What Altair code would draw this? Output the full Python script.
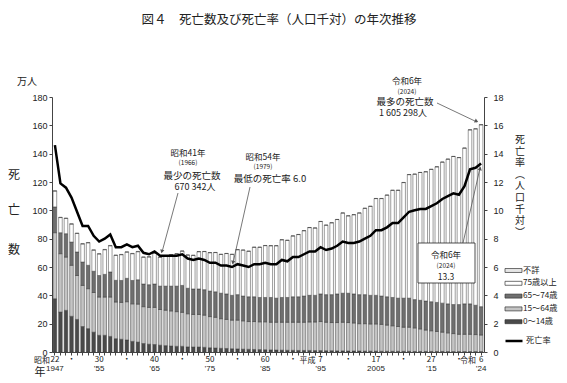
import altair as alt
import pandas as pd

FONT = "Noto Sans CJK JP"
NUMFONT = "Liberation Sans"

years = list(range(1947, 2025))

age_0_14 = [37.6, 28.2, 29.4, 25.2, 23.0, 18.0, 16.5, 14.0, 11.8, 11.8,
            11.0, 9.4, 9.0, 8.5, 7.5, 7.0, 6.0, 5.5, 5.3, 4.8,
            4.5, 4.2, 4.0, 4.0, 3.6, 3.5, 3.5, 3.3, 3.0, 2.8,
            2.6, 2.5, 2.3, 2.2, 2.0, 1.9, 1.8, 1.7, 1.6, 1.5,
            1.4, 1.3, 1.2, 1.2, 1.1, 1.1, 1.1, 1.0, 1.0, 0.9,
            0.9, 0.8, 0.8, 0.7, 0.7, 0.7, 0.6, 0.6, 0.6, 0.5,
            0.5, 0.5, 0.5, 0.5, 0.5, 0.4, 0.4, 0.4, 0.4, 0.4,
            0.4, 0.3, 0.3, 0.3, 0.3, 0.3, 0.3, 0.3]

age_15_64 = [46.6, 41.2, 37.6, 36.0, 31.0, 29.0, 28.2, 28.0, 27.0, 27.0,
             27.8, 25.9, 26.0, 27.0, 26.5, 26.8, 26.0, 26.0, 26.2, 25.2,
             25.0, 24.8, 24.5, 24.0, 23.4, 23.0, 23.0, 22.7, 22.0, 21.7,
             20.9, 20.5, 20.2, 20.3, 20.0, 19.6, 19.7, 19.6, 19.7, 19.5,
             19.6, 19.7, 19.8, 19.8, 19.9, 19.9, 20.1, 20.2, 20.5, 20.1,
             19.9, 20.0, 20.2, 20.1, 19.8, 19.3, 19.4, 19.2, 19.2, 19.0,
             18.5, 18.0, 17.5, 17.0, 17.0, 16.6, 15.9, 15.1, 14.6, 14.1,
             13.6, 13.2, 12.7, 12.2, 12.2, 12.2, 12.0, 11.7]

age_65_74 = [18.2, 14.8, 16.5, 16.4, 16.6, 16.5, 16.5, 15.0, 15.2, 16.0,
             17.7, 15.3, 15.5, 16.5, 16.5, 17.2, 16.0, 16.0, 16.5, 16.5,
             17.0, 17.5, 18.0, 19.0, 18.0, 18.0, 18.0, 18.0, 18.0, 18.0,
             18.0, 18.0, 17.5, 18.0, 17.5, 17.5, 17.5, 17.2, 17.2, 17.5,
             17.0, 17.5, 17.5, 18.0, 18.0, 18.5, 18.8, 18.8, 19.5, 19.5,
             19.7, 20.2, 20.5, 20.7, 20.5, 20.5, 20.5, 20.2, 20.2, 20.0,
             20.0, 20.0, 20.0, 20.5, 20.5, 20.0, 20.2, 20.5, 20.5, 20.5,
             20.5, 20.5, 20.5, 21.0, 21.5, 21.5, 20.7, 20.0]

age_75_plus = [11.2, 10.7, 10.8, 12.7, 13.1, 12.8, 15.9, 14.9, 15.2, 17.4,
               18.5, 17.6, 18.2, 18.5, 18.9, 19.8, 18.9, 19.6, 21.8, 20.4,
               20.9, 22.1, 22.8, 24.2, 23.4, 23.7, 26.3, 26.9, 27.1, 27.7,
               27.4, 28.5, 28.9, 31.7, 32.4, 32.1, 34.9, 35.4, 36.6, 36.5,
               37.0, 40.7, 40.3, 42.9, 43.9, 46.1, 47.8, 47.5, 51.1, 49.0,
               50.7, 52.5, 56.6, 54.6, 55.9, 57.6, 60.9, 62.8, 68.3, 68.8,
               71.7, 75.6, 76.1, 81.6, 87.2, 88.5, 90.2, 91.2, 93.4, 95.7,
               99.5, 102.1, 104.5, 103.7, 109.9, 122.8, 124.5, 128.4]

age_unknown = [0.2, 0.2, 0.2, 0.2, 0.2, 0.2, 0.2, 0.2, 0.2, 0.2,
               0.2, 0.2, 0.2, 0.2, 0.2, 0.2, 0.2, 0.2, 0.2, 0.1,
               0.1, 0.1, 0.1, 0.1, 0.1, 0.1, 0.1, 0.1, 0.1, 0.1,
               0.1, 0.1, 0.1, 0.1, 0.1, 0.1, 0.1, 0.1, 0.1, 0.1,
               0.1, 0.1, 0.1, 0.1, 0.1, 0.1, 0.1, 0.1, 0.1, 0.1,
               0.1, 0.1, 0.1, 0.1, 0.1, 0.1, 0.1, 0.1, 0.1, 0.1,
               0.1, 0.1, 0.1, 0.1, 0.1, 0.1, 0.1, 0.1, 0.1, 0.1,
               0.1, 0.1, 0.1, 0.1, 0.1, 0.1, 0.1, 0.1]

death_rate = [14.6, 11.9, 11.6, 10.9, 9.9, 8.9, 8.9, 8.2, 7.8, 8.0,
              8.3, 7.4, 7.4, 7.6, 7.4, 7.5, 7.0, 6.9, 7.1, 6.8,
              6.8, 6.8, 6.8, 6.9, 6.6, 6.5, 6.6, 6.5, 6.3, 6.3,
              6.1, 6.1, 6.0, 6.2, 6.1, 6.0, 6.2, 6.2, 6.3, 6.2,
              6.2, 6.5, 6.4, 6.7, 6.7, 6.9, 7.1, 7.1, 7.4, 7.2,
              7.3, 7.5, 7.8, 7.7, 7.7, 7.8, 8.0, 8.2, 8.6, 8.6,
              8.8, 9.1, 9.1, 9.5, 9.9, 10.0, 10.1, 10.1, 10.3, 10.5,
              10.8, 11.0, 11.2, 11.1, 11.7, 12.9, 13.0, 13.3]

groups = ["0～14歳", "15～64歳", "65～74歳", "75歳以上", "不詳"]
legend_order = ["不詳", "75歳以上", "65～74歳", "15～64歳", "0～14歳"]
legend_colors = ["#e6e6e6", "#ffffff", "#6f6f6f", "#c4c4c4", "#4a4a4a"]

tick_years = [1947, 1950, 1955, 1960, 1965, 1970, 1975, 1980, 1985, 1990,
              1995, 2000, 2005, 2010, 2015, 2020, 2024]
tick_top = ["22", "・", "30", "・", "40", "・", "50", "・", "60", "・",
            "7", "・", "17", "・", "27", "・", "6"]
tick_bottom = ["1947", "", "’55", "", "’65", "", "’75", "", "’85", "",
               "’95", "", "2005", "", "’15", "", "’24"]
era_years = [1947, 1995, 2024]
era_names = ["昭和", "平成", "令和"]
right_title_chars = ["死", "亡", "率", "︵", "人", "口", "千", "対", "︶"]

# ---- tables ----
rows = []
series = [age_0_14, age_15_64, age_65_74, age_75_plus, age_unknown]
for gi, (g, s) in enumerate(zip(groups, series)):
    for y, v in zip(years, s):
        rows.append({"year": y, "group": g, "value": v, "ord": gi})
bars_df = pd.DataFrame(rows)
line_df = pd.DataFrame({"year": years, "rate": death_rate, "lab": "死亡率"})
ticks_df = pd.DataFrame({"year": tick_years, "top": tick_top, "bottom": tick_bottom})
era_df = pd.DataFrame({"year": era_years, "era": era_names})
one = pd.DataFrame({"a": [0]})

xenc = alt.X("year:O", title=None,
             scale=alt.Scale(paddingInner=0.35, paddingOuter=0.2),
             axis=alt.Axis(labels=False, title=None, tickSize=3, domainColor="#444",
                           tickColor="#444", domainWidth=1))

bars = alt.Chart(bars_df).mark_bar(stroke="#3a3a3a", strokeWidth=0.5).encode(
    x=xenc,
    y=alt.Y("value:Q", stack="zero", title=None,
            scale=alt.Scale(domain=[0, 180], nice=False),
            axis=alt.Axis(values=list(range(0, 181, 20)), grid=False, tickSize=3,
                          labelPadding=2, labelFontSize=9, labelFont=NUMFONT,
                          domainColor="#444", tickColor="#444", labelColor="#222")),
    fill=alt.Fill("group:N", scale=alt.Scale(domain=legend_order, range=legend_colors),
                  legend=alt.Legend(orient="none", legendX=455, legendY=167, title=None,
                                    symbolType="M-1.5,-0.35H1.5V0.35H-1.5Z",
                                    symbolSize=128, symbolStrokeColor="#333",
                                    symbolStrokeWidth=0.7, symbolOpacity=1,
                                    labelFontSize=8.2, labelFont=FONT, labelOffset=3,
                                    rowPadding=2.8, labelColor="#222", labelLimit=0)),
    order=alt.Order("ord:Q", sort="ascending"),
)

line = alt.Chart(line_df).mark_line(strokeWidth=2.5).encode(
    x=alt.X("year:O"),
    y=alt.Y("rate:Q", title=None, scale=alt.Scale(domain=[0, 18], nice=False),
            axis=alt.Axis(orient="right", values=list(range(0, 19, 2)), grid=False,
                          tickSize=3, labelPadding=6, labelFontSize=9, labelFont=NUMFONT,
                          domainColor="#444", tickColor="#444", labelColor="#222")),
    stroke=alt.Stroke("lab:N", scale=alt.Scale(domain=["死亡率"], range=["#000000"]),
                      legend=alt.Legend(orient="none", legendX=452, legendY=234,
                                        title=None, symbolType="stroke", symbolSize=289,
                                        symbolStrokeWidth=2.5, labelFontSize=8.2,
                                        labelFont=FONT, labelOffset=2, labelColor="#222")),
)

tick_top_layer = alt.Chart(ticks_df).mark_text(fontSize=8, font=FONT, color="#222",
                                               baseline="middle").encode(
    x=alt.X("year:O"), y=alt.value(263), text="top:N")
tick_bot_layer = alt.Chart(ticks_df).mark_text(fontSize=8, font=NUMFONT, color="#222",
                                               baseline="middle").encode(
    x=alt.X("year:O"), y=alt.value(272), text="bottom:N")
era_layer = alt.Chart(era_df).mark_text(fontSize=8, font=FONT, color="#222",
                                        baseline="middle", align="right", dx=-5).encode(
    x=alt.X("year:O"), y=alt.value(264), text="era:N")


def txt(s, x, y, size=9, align="center", baseline="middle", font=FONT, **kw):
    return alt.Chart(one).mark_text(fontSize=size, align=align, baseline=baseline,
                                    font=font, color="#222", **kw).encode(
        x=alt.value(x), y=alt.value(y), text=alt.value(s))


def rule(x1, y1, x2, y2):
    return alt.Chart(one).mark_rule(color="#555", strokeWidth=0.8).encode(
        x=alt.value(x1), y=alt.value(y1), x2=alt.value(x2), y2=alt.value(y2))


def head(x, y, ang):
    return alt.Chart(one).mark_point(shape="triangle", filled=True, size=18,
                                     angle=ang, color="#555", opacity=1).encode(
        x=alt.value(x), y=alt.value(y))


box = alt.Chart(one).mark_rect(fill="white", stroke="#222", strokeWidth=0.8).encode(
    x=alt.value(366), x2=alt.value(423), y=alt.value(146), y2=alt.value(186))

right_title = [txt(c, 468, 43 + i * 11.6, size=10)
               for i, c in enumerate(right_title_chars)]

layers = [bars, line, box, tick_top_layer, tick_bot_layer, era_layer,
          # title
          txt("図４　死亡数及び死亡率（人口千対）の年次推移", 227, -83, size=12.5,
              baseline="top"),
          # left axis title
          txt("万人", -25, -15, size=10),
          txt("死", -38, 78, size=12), txt("亡", -38, 113, size=12),
          txt("数", -38, 153, size=12),
          txt("年", -12, 276, size=11),
          # 1966 annotation
          txt("昭和41年", 136, 56, size=8.5), txt("(1966)", 136, 66, size=6.5),
          txt("最少の死亡数", 140, 79, size=9.5), txt("670 342人", 143, 90, size=9),
          rule(126, 96, 110, 155), head(110, 154, 195),
          # 1979 annotation
          txt("昭和54年", 211, 60, size=8.5), txt("(1979)", 211, 70, size=6.5),
          txt("最低の死亡率 6.0", 218, 82, size=9.5),
          rule(198, 90, 181, 166), head(181, 165, 193),
          # 2024 max annotation
          txt("令和6年", 355, -16, size=8.5), txt("(2024)", 355, -5, size=6.5),
          txt("最多の死亡数", 353, 5, size=9.5), txt("1 605 298人", 351, 16, size=9),
          rule(385, 6, 425, 25), head(424, 24, 115),
          # 2024 rate box
          txt("令和6年", 394, 158, size=8.5), txt("(2024)", 394, 169, size=6.5),
          txt("13.3", 394, 180, size=8.5),
          rule(411, 146, 428, 71), head(428, 72, 13),
          ] + right_title

chart = alt.layer(*layers).resolve_scale(y="independent").properties(
    width=432, height=255,
    autosize=alt.AutoSizeParams(type="none"),
    padding={"left": 44, "top": 89, "right": 75, "bottom": 28},
).configure_view(stroke=None)

chart.save("out.html", embed_options={"renderer": "svg", "actions": False})
